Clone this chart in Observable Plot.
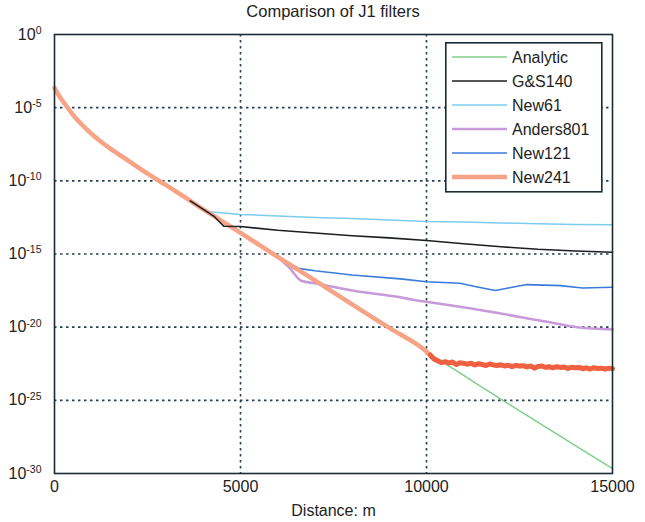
<!DOCTYPE html>
<html><head><meta charset="utf-8">
<script src="https://cdn.jsdelivr.net/npm/d3@7"></script>
<script src="https://cdn.jsdelivr.net/npm/@observablehq/plot@0.6"></script>
<style>
body{margin:0;background:#fff;font-family:"Liberation Sans",Arial,sans-serif;}
#wrap{position:relative;width:645px;height:522px;}
#title{position:absolute;left:54px;width:558px;top:2px;text-align:center;font-size:16.5px;color:#222;}
#legend{position:absolute;left:445px;top:42px;}
</style></head><body>
<div id="wrap"><div id="chart"></div><div id="title">Comparison of J1 filters</div><div id="legend"></div></div>
<script>
// ---- data (y values are log10 of the response) ----
const seriesNames = ["Analytic","G&S140","New61","Anders801","New121","New241"];
const xTicks = [0, 5000, 10000, 15000];
const yTickExponents = [0, -5, -10, -15, -20, -25, -30];

const analyticX = [0,100,250,500,750,1000,1250,1500,2000,2500,3000,3500,4000,4500,5000,6000,7000,8000,9000,10000,11000,12000,13000,14000,15000];
const analyticY = [-3.65,-4.1,-4.65,-5.5,-6.2,-6.8,-7.33,-7.8,-8.65,-9.5,-10.3,-11.12,-11.95,-12.75,-13.55,-15.2,-16.8,-18.45,-20.05,-21.67,-23.3,-24.92,-26.5,-28.1,-29.66];

const gs140X = [3650,4000,4300,4550,5000,6000,7000,8000,9000,10000,11000,12000,13000,14000,15000];
const gs140Y = [-11.37,-11.95,-12.45,-13.1,-13.12,-13.38,-13.57,-13.75,-13.9,-14.08,-14.3,-14.5,-14.68,-14.8,-14.88];

const new61X = [3900,4100,5000,6000,7000,8000,9000,10000,11000,12000,13000,14000,15000];
const new61Y = [-11.78,-12.1,-12.3,-12.4,-12.5,-12.58,-12.67,-12.78,-12.82,-12.88,-12.93,-12.98,-13.0];

const anders801X = [6000,6300,6650,7000,8000,9300,9600,10500,11800,13150,14050,15000];
const anders801Y = [-15.2,-15.9,-16.85,-17.0,-17.5,-17.96,-18.11,-18.45,-18.98,-19.6,-20.0,-20.16];

const new121X = [5800,6000,6300,6600,7000,8000,9300,10000,10900,11400,11850,12200,12700,13600,14200,15000];
const new121Y = [-14.87,-15.25,-15.65,-16.0,-16.15,-16.43,-16.7,-16.9,-17.0,-17.27,-17.5,-17.32,-17.09,-17.16,-17.32,-17.27];

// New241 follows Analytic up to 10000 m, then this noisy floor
const new241TailX = [10000,10100,10200,10300,10400,10500,10600,10700,10800,10900,11000,11100,11200,11300,11400,11500,11600,11700,11800,11900,12000,12100,12200,12300,12400,12500,12600,12700,12800,12900,13000,13100,13200,13300,13400,13500,13600,13700,13800,13900,14000,14100,14200,14300,14400,14500,14600,14700,14800,14900,15000];
const new241TailY = [-21.67,-21.9,-22.18,-22.3,-22.42,-22.36,-22.45,-22.38,-22.55,-22.44,-22.47,-22.53,-22.46,-22.58,-22.5,-22.55,-22.62,-22.52,-22.58,-22.62,-22.57,-22.65,-22.6,-22.7,-22.61,-22.66,-22.63,-22.72,-22.65,-22.8,-22.68,-22.66,-22.74,-22.7,-22.78,-22.7,-22.75,-22.72,-22.82,-22.74,-22.78,-22.75,-22.84,-22.78,-22.86,-22.77,-22.82,-22.8,-22.86,-22.8,-22.84];

// ---- styles ----
const colors = {"Analytic":"#7fcf8c","G&S140":"#1c1f22","New61":"#7cccef","Anders801":"#c79ad9","New121":"#3a7bdc","New241":"#f6a386"};
const widths = {"Analytic":1.5,"G&S140":1.6,"New61":1.5,"Anders801":2.6,"New121":1.6,"New241":4.5};

const rows = (xs, ys) => xs.map((x, i) => ({x, y: Math.pow(10, ys[i])}));
const analytic = rows(analyticX, analyticY);
const gs140 = rows(gs140X, gs140Y);
const new61 = rows(new61X, new61Y);
const anders801 = rows(anders801X, anders801Y);
const new121 = rows(new121X, new121Y);
const new241Tail = rows(new241TailX, new241TailY);
const new241 = analytic.filter(d => d.x < 10000).concat(new241Tail);

const gridStyle = {stroke:"#26404f", strokeOpacity:1, strokeWidth:1.6, strokeDasharray:"2.5,3.5"};
const line = (data, name, extra={}) => Plot.line(data, {x:"x", y:"y", stroke: colors[name], strokeWidth: widths[name], curve:"linear", ...extra});

const chart = Plot.plot({
  width:645, height:522,
  marginLeft:54, marginRight:33, marginTop:34, marginBottom:49,
  style:{fontFamily:"Liberation Sans, Arial, sans-serif", fontSize:"16px", color:"#222", background:"transparent", overflow:"visible"},
  x:{domain:[0,15000]},
  y:{type:"log", domain:[1e-30, 1]},
  marks:[
    Plot.gridX(xTicks.slice(1, -1), gridStyle),
    Plot.gridY(yTickExponents.slice(1, -1).map(e => Math.pow(10, e)), gridStyle),
    line(analytic, "Analytic", {curve:"monotone-x"}),
    line(new61, "New61"),
    line(anders801, "Anders801", {curve:"monotone-x"}),
    line(new121, "New121"),
    line(new241, "New241", {curve:"monotone-x"}),
    Plot.line(new241Tail.slice(1), {x:"x", y:"y", stroke:"#ee5332", strokeWidth:5, strokeOpacity:0.85}),
    line(gs140, "G&S140"),
    Plot.frame({stroke:"#1b2a33", strokeWidth:1.6}),
    Plot.axisX({ticks:xTicks, tickFormat:d => String(d), tickSize:0, tickPadding:7, label:"Distance: m", labelAnchor:"center", labelArrow:"none", labelOffset:42}),
    Plot.axisY({ticks:yTickExponents.map(e => Math.pow(10, e)), tickFormat:d => String(Math.round(Math.log10(d))), tickSize:0, tickPadding:13, label:null})
  ]
});
document.getElementById("chart").append(chart);

// superscript exponents on y tick labels
const ns = "http://www.w3.org/2000/svg";
chart.querySelectorAll('g[aria-label="y-axis tick label"] text').forEach(t => {
  const e = t.textContent;
  t.textContent = "";
  const a = document.createElementNS(ns, "tspan"); a.textContent = "10"; t.append(a);
  const b = document.createElementNS(ns, "tspan"); b.setAttribute("dy", "-0.55em"); b.setAttribute("font-size", "10.5px"); b.textContent = e; t.append(b);
});

// legend
const lg = d3.select("#legend").append("svg").attr("width", 158).attr("height", 151).style("display","block");
lg.append("rect").attr("x",0.8).attr("y",0.8).attr("width",156).attr("height",149).attr("fill","#fff").attr("stroke","#1b2a33").attr("stroke-width",1.6);
seriesNames.forEach((name, i) => {
  const y = 15 + i * 24;
  lg.append("line").attr("x1",7).attr("x2",62).attr("y1",y).attr("y2",y).attr("stroke",colors[name]).attr("stroke-width",widths[name]);
  lg.append("text").attr("x",67).attr("y",y).attr("dy","0.35em").attr("font-size","16px").attr("fill","#222").attr("font-family","Liberation Sans, Arial, sans-serif").text(name);
});
</script>
</body></html>
